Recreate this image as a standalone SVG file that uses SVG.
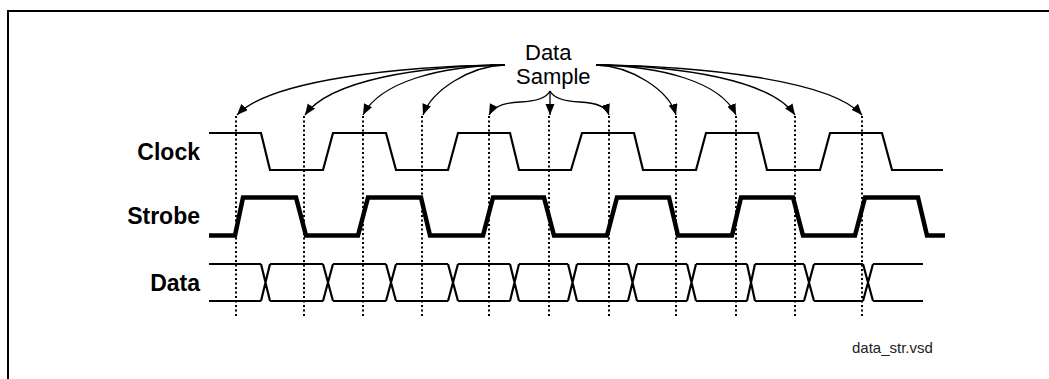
<svg xmlns="http://www.w3.org/2000/svg" width="1049" height="379" viewBox="0 0 1049 379">
<defs>
<marker id="ah" markerUnits="userSpaceOnUse" markerWidth="12" markerHeight="10" refX="11" refY="4.5" orient="auto">
<path d="M0,0 L11,4.5 L0,9 z" fill="#000"/>
</marker>
<style>
.lbl{font-family:"Liberation Sans",Arial,sans-serif;font-weight:bold;font-size:23px;fill:#000;text-anchor:end}
.ttl{font-family:"Liberation Sans",Arial,sans-serif;font-size:22px;fill:#000}
.note{font-family:"Liberation Sans",Arial,sans-serif;font-size:15px;fill:#222}
.clk{fill:none;stroke:#000;stroke-width:2.2}
.stb{fill:none;stroke:#000;stroke-width:4.5}
.dat{fill:none;stroke:#000;stroke-width:2.2}
.dot{fill:none;stroke:#000;stroke-width:2;stroke-dasharray:2 2.5}
.arr{fill:none;stroke:#000;stroke-width:1.3;marker-end:url(#ah)}
</style>
</defs>
<g id="frame">
<path d="M8,379 L8,11 L1049,11" fill="none" stroke="#000" stroke-width="2"/>
</g>
<g id="title">
<text class="ttl" x="525" y="59.5">Data</text>
<text class="ttl" x="516" y="84">Sample</text>
</g>
<g id="labels">
<text id="lbl-clock" class="lbl" x="200" y="160">Clock</text>
<text id="lbl-strobe" class="lbl" x="200" y="224">Strobe</text>
<text id="lbl-data" class="lbl" x="200" y="291">Data</text>
</g>
<g id="clock">
<polyline class="clk" points="209,133 261,133 270,170 323,170 333,133 386,133 396,170 448,170 458,133 510,133 519,170 571,170 582,133 634,133 643,170 696,170 706,133 758,133 767,170 820,170 830,133 882,133 892,170 943,170"/>
</g>
<g id="strobe">
<polyline class="stb" points="209,235.5 235,235.5 243,197.5 296,197.5 306,235.5 358,235.5 368,197.5 421,197.5 430,235.5 483,235.5 493,197.5 544,197.5 554,235.5 607,235.5 617,197.5 669,197.5 678,235.5 732,235.5 741,197.5 793,197.5 803,235.5 855,235.5 865,197.5 918,197.5 927,235.5 945,235.5"/>
</g>
<g id="data">
<path class="dat" d="M209,264 H261 M209,301 H261 M261,264 L270,301 M261,301 L270,264
M270,264 H323 M270,301 H323 M323,264 L333,301 M323,301 L333,264
M333,264 H386 M333,301 H386 M386,264 L396,301 M386,301 L396,264
M396,264 H448 M396,301 H448 M448,264 L458,301 M448,301 L458,264
M458,264 H510 M458,301 H510 M510,264 L519,301 M510,301 L519,264
M519,264 H568 M519,301 H568 M568,264 L577,301 M568,301 L577,264
M577,264 H628 M577,301 H628 M628,264 L637,301 M628,301 L637,264
M637,264 H687 M637,301 H687 M687,264 L696,301 M687,301 L696,264
M696,264 H747 M696,301 H747 M747,264 L755,301 M747,301 L755,264
M755,264 H804 M755,301 H804 M804,264 L814,301 M804,301 L814,264
M814,264 H863 M814,301 H863 M863,264 L873,301 M863,301 L873,264
M873,264 H923 M873,301 H923"/>
</g>
<g id="connectors">
<path class="dot" d="M236,116 V317 M304,116 V317 M363,116 V317 M422,116 V317 M489,116 V317 M549,116 V317 M609,116 V317 M676,116 V317 M736,116 V317 M795,116 V317 M862,116 V317"/>
<path d="M490,65 H505 M596,65 H611" fill="none" stroke="#000" stroke-width="1.3"/>
<path class="arr" d="M505,65 C400,66 270,80 237,115"/>
<path class="arr" d="M505,65 C420,66 330,80 305,115"/>
<path class="arr" d="M505,65 C440,66 380,82 363,115"/>
<path class="arr" d="M505,65 C470,66 432,90 423,115"/>
<path class="arr" d="M596,65 C631,66 669,90 676,115"/>
<path class="arr" d="M596,65 C661,66 721,82 736,115"/>
<path class="arr" d="M596,65 C681,66 771,80 795,115"/>
<path class="arr" d="M596,65 C701,66 831,80 862,115"/>
<path class="arr" d="M550,91 V115"/>
<path class="arr" d="M550,91 Q545,101 520,102 Q495,103 489,115"/>
<path class="arr" d="M550,91 Q555,101 580,102 Q605,103 609,115"/>
</g>
<g id="note">
<text class="note" x="852" y="353">data_str.vsd</text>
</g>
</svg>
